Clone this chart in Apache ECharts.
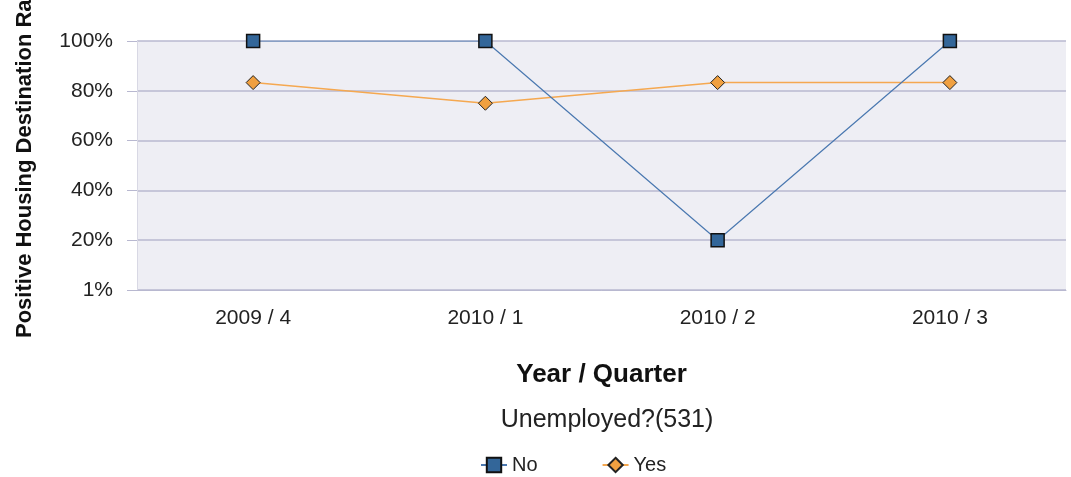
<!DOCTYPE html>
<html>
<head>
<meta charset="utf-8">
<script src="https://cdn.jsdelivr.net/npm/echarts@6/dist/echarts.min.js"></script>
<style>
  html, body { margin: 0; padding: 0; background: #fff; }
  #chart { width: 1071px; height: 477px; }
</style>
</head>
<body>
<div id="chart"></div>
<script>
// 数据
const quarters = ["2009 / 4", "2010 / 1", "2010 / 2", "2010 / 3"];
const noValues = [100, 100, 20, 100];
const yesValues = [83.3, 75, 83.3, 83.3];
const yTicks = { 0: "1%", 20: "20%", 40: "40%", 60: "60%", 80: "80%", 100: "100%" };

let chart = echarts.init(document.getElementById("chart"));
const font = "Liberation Sans, Arial, sans-serif";

chart.setOption({
  animation: false,
  textStyle: { fontFamily: font },
  title: {
    text: "Unemployed?(531)",
    left: 602,
    top: 403,
    textAlign: "center",
    textStyle: { fontSize: 25, fontWeight: "normal", color: "#222", fontFamily: font },
  },
  legend: {
    top: 450,
    left: 475,
    itemGap: 64,
    itemWidth: 26,
    itemHeight: 18,
    textStyle: { fontSize: 20, color: "#222", fontFamily: font },
    data: ["No", "Yes"],
  },
  // y轴标题
  graphic: [
    {
      type: "text",
      x: 14,
      y: 338,
      rotation: Math.PI / 2,
      style: {
        text: "Positive Housing Destination Rate",
        font: "bold 22px Liberation Sans, Arial, sans-serif",
        fill: "#111",
        textAlign: "left",
        textVerticalAlign: "top",
      },
    },
  ],
  grid: {
    left: 137,
    right: 5,
    top: 41,
    bottom: 187,
    show: true,
    backgroundColor: "#eeeef4",
    borderWidth: 0,
  },
  xAxis: {
    type: "category",
    data: quarters,
    boundaryGap: true,
    name: "Year / Quarter",
    nameLocation: "middle",
    nameGap: 72,
    nameTextStyle: { fontSize: 26, fontWeight: "bold", color: "#111" },
    axisLine: { lineStyle: { color: "#b8b8d0" } },
    axisTick: { show: false },
    axisLabel: { fontSize: 21, color: "#222", margin: 18 },
  },
  yAxis: {
    type: "value",
    min: 0,
    max: 100,
    interval: 20,
    axisLine: { show: true, lineStyle: { color: "#d8d8e4" } },
    axisTick: { show: true, length: 10, lineStyle: { color: "#b8b8d0" } },
    splitLine: { lineStyle: { color: "#b8b8d0", width: 1.5 } },
    axisLabel: {
      fontSize: 21,
      color: "#222",
      margin: 24,
      formatter: (v) => yTicks[v],
    },
  },
  series: [
    {
      name: "No",
      type: "line",
      data: noValues,
      symbol: "rect",
      symbolSize: 13,
      lineStyle: { color: "#4a78b0", width: 1.2 },
      itemStyle: { color: "#336699", borderColor: "#111", borderWidth: 1.5 },
      z: 3,
    },
    {
      name: "Yes",
      type: "line",
      data: yesValues,
      symbol: "diamond",
      symbolSize: 14,
      lineStyle: { color: "#f5a850", width: 1.5 },
      itemStyle: { color: "#f0a040", borderColor: "#222", borderWidth: 1 },
      z: 2,
    },
  ],
});
</script>
</body>
</html>
